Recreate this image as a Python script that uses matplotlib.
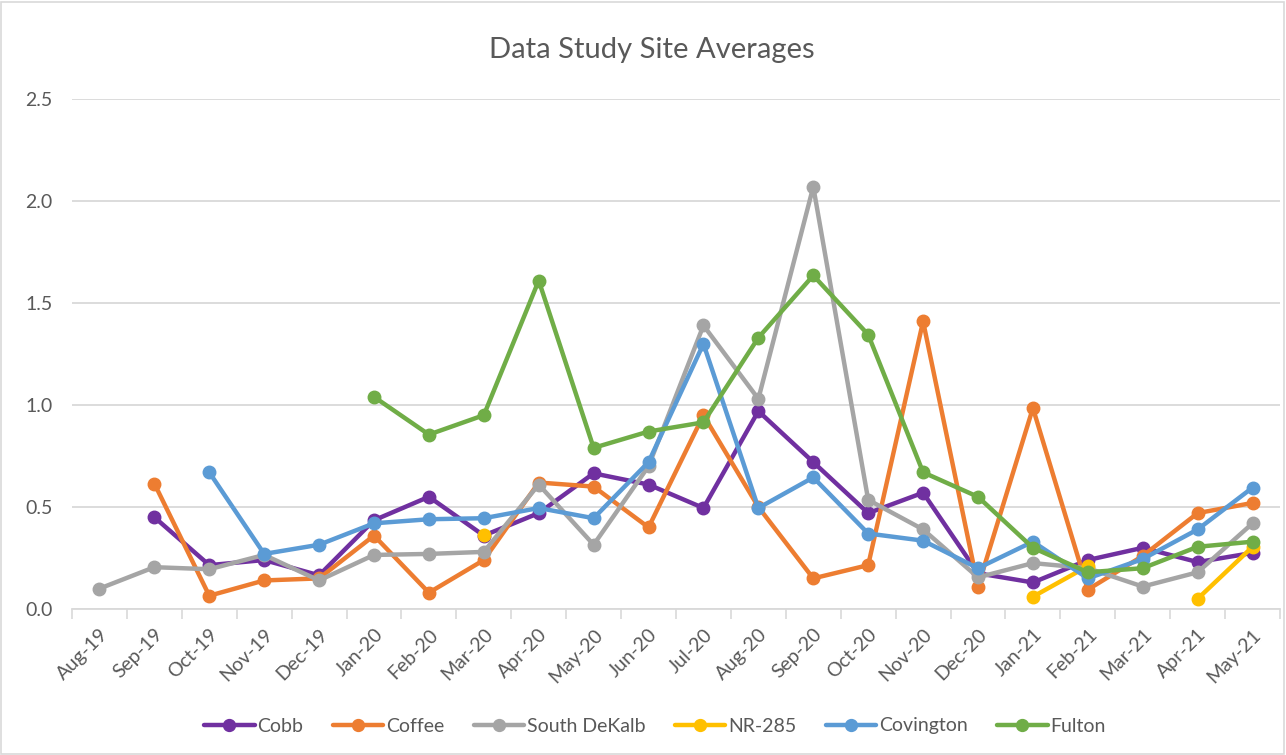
import numpy as np
import matplotlib
matplotlib.use("Agg")
import matplotlib.pyplot as plt
from matplotlib.patches import Rectangle

nan = np.nan
months = ["Aug-19", "Sep-19", "Oct-19", "Nov-19", "Dec-19", "Jan-20", "Feb-20", "Mar-20",
          "Apr-20", "May-20", "Jun-20", "Jul-20", "Aug-20", "Sep-20", "Oct-20", "Nov-20",
          "Dec-20", "Jan-21", "Feb-21", "Mar-21", "Apr-21", "May-21"]

cobb = [nan, 0.45, 0.215, 0.24, 0.165, 0.435, 0.55, 0.36, 0.47, 0.665, 0.61, 0.495,
        0.97, 0.72, 0.47, 0.57, 0.175, 0.13, 0.24, 0.30, 0.23, 0.275]
coffee = [nan, 0.615, 0.065, 0.14, 0.15, 0.36, 0.08, 0.24, 0.62, 0.60, 0.40, 0.95,
          0.50, 0.15, 0.215, 1.41, 0.11, 0.985, 0.095, 0.26, 0.47, 0.52]
south_dekalb = [0.10, 0.205, 0.195, 0.265, 0.14, 0.265, 0.27, 0.28, 0.61, 0.315, 0.70, 1.39,
                1.03, 2.07, 0.535, 0.39, 0.155, 0.225, 0.20, 0.11, 0.18, 0.42]
nr285 = [nan, nan, nan, nan, nan, nan, nan, 0.365, nan, nan, nan, nan,
         nan, nan, nan, nan, nan, 0.06, 0.21, nan, 0.05, 0.305]
covington = [nan, nan, 0.67, 0.27, 0.315, 0.42, 0.44, 0.445, 0.495, 0.445, 0.72, 1.30,
             0.495, 0.645, 0.37, 0.335, 0.20, 0.33, 0.15, 0.245, 0.39, 0.595]
fulton = [nan, nan, nan, nan, nan, 1.04, 0.855, 0.95, 1.61, 0.79, 0.87, 0.915,
          1.33, 1.635, 1.345, 0.67, 0.55, 0.30, 0.18, 0.20, 0.305, 0.33]

series = [("Cobb", cobb, "#7030A0"),
          ("Coffee", coffee, "#ED7D31"),
          ("South DeKalb", south_dekalb, "#A5A5A5"),
          ("NR-285", nr285, "#FFC000"),
          ("Covington", covington, "#5B9BD5"),
          ("Fulton", fulton, "#70AD47")]

plt.rcParams['font.family'] = ['Lato', 'DejaVu Sans']
txt = "#595959"

fig = plt.figure(figsize=(12.86, 7.55), dpi=100)
ax = fig.add_axes([72/1286, 1-609/755, (1280-72)/1286, (609-99)/755])

x = np.arange(len(months))
for i, (name, vals, col) in enumerate(series):
    ax.plot(x, np.array(vals, dtype=float), color=col, lw=3.2, marker='o', ms=9,
            label=name, zorder=3+i, solid_capstyle='round', solid_joinstyle='round')

ax.set_xlim(-0.5, len(months)-0.5)
ax.set_ylim(0, 2.5)
ax.set_yticks(np.arange(0, 2.51, 0.5))
ax.set_yticklabels([f"{v:.1f}" for v in np.arange(0, 2.51, 0.5)], color=txt, fontsize=14)
ax.set_xticks(x)
ax.set_xticklabels(months, rotation=45, ha='right', rotation_mode='anchor', color=txt, fontsize=14)
ax.set_xticks(np.arange(-0.5, len(months), 1), minor=True)
ax.tick_params(axis='x', which='major', length=0, pad=12)
ax.tick_params(axis='x', which='minor', length=7, color="#D9D9D9", width=1.2)
ax.tick_params(axis='y', length=0, pad=14)
ax.grid(axis='y', color="#D9D9D9", lw=1.3, zorder=0)
ax.set_axisbelow(True)
for s in ['top', 'right', 'left']:
    ax.spines[s].set_visible(False)
ax.spines['bottom'].set_color("#D9D9D9")
ax.spines['bottom'].set_linewidth(1.3)

fig.text(652/1286, 1-50/755, "Data Study Site Averages", ha='center', va='center',
         fontsize=21, color=txt)

leg = fig.legend(loc='center', bbox_to_anchor=(655/1286, 1-726/755), ncol=6, frameon=False,
                 fontsize=14, handlelength=2.6, columnspacing=1.5, handletextpad=0.15,
                 markerscale=0.95)
for t in leg.get_texts():
    t.set_color(txt)

fig.patches.append(Rectangle((1/1286, 1/755), 1-3/1286, 1-3/755, transform=fig.transFigure,
                             fill=False, edgecolor="#D9D9D9", lw=1.2))

fig.savefig("out.png", dpi=100)
